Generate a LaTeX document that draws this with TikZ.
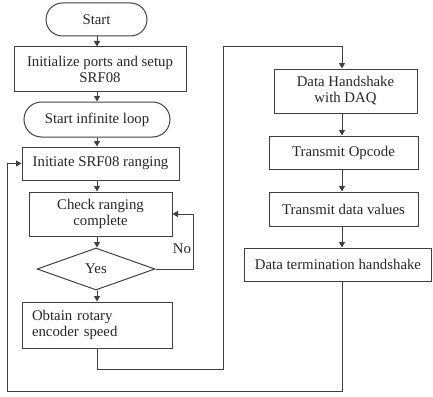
\documentclass[tikz,border=0pt]{standalone}
\usepackage{fontspec}
\setmainfont{Liberation Serif}
\usetikzlibrary{shapes.geometric,shapes.misc,arrows.meta}
\begin{document}
\begin{tikzpicture}[x=1pt,y=-1pt,
  every node/.style={font=\fontsize{14.8}{16}\selectfont, text=black!85},
  box/.style={draw=black!75, line width=1pt, rectangle, align=center, inner sep=2pt},
  termbox/.style={draw=black!75, line width=1pt, rounded rectangle, align=center, inner sep=2pt},
  decbox/.style={draw=black!75, line width=1pt, diamond, inner sep=0pt},
  conn/.style={draw=black!75, line width=1pt},
  arr/.style={conn, -{Triangle[length=5.5pt,width=6pt]}}]
\useasboundingbox (0,0) rectangle (433,396);
% column axes
\coordinate (colL) at (97,0);
\coordinate (colR) at (342,0);
% left column
\node[termbox, minimum width=105pt, minimum height=33pt] (start) at (96.5,19.5) {Start};
\node[box, minimum width=172pt, minimum height=44pt] (init) at (100,69) {Initialize ports and setup\\SRF08};
\node[termbox, minimum width=150pt, minimum height=35pt] (loop) at (97,119.5) {Start infinite loop};
\node[box, minimum width=157pt, minimum height=33pt] (initiate) at (100.5,163.5) {Initiate SRF08 ranging};
\node[box, minimum width=143pt, minimum height=44pt] (check) at (100.5,214) {Check ranging\\complete};
\node[decbox, minimum width=118pt, minimum height=42pt] (dec) at (96,269) {Yes};
\node[box, minimum height=46pt, text width=130pt, inner xsep=10pt, align=left] (obtain) at (97,325) {Obtain rotary\\encoder speed};
% right column
\node[box, minimum width=143pt, minimum height=44pt] (hand) at (345.5,91) {Data Handshake\\with DAQ};
\node[box, minimum width=149pt, minimum height=33pt] (opcode) at (343.5,152.5) {Transmit Opcode};
\node[box, minimum width=149pt, minimum height=34pt] (values) at (343.5,209) {Transmit data values};
\node[box, minimum width=187pt, minimum height=33pt] (termh) at (338,264.5) {Data termination handshake};
% label
\node (no) at (182,249) {No};
% corner coordinates
\coordinate (c1) at (97,369);
\coordinate (c2) at (223,369);
\coordinate (c3) at (223,47);
\coordinate (c4) at (342,47);
\coordinate (d1) at (342,391);
\coordinate (d2) at (7,391);
\coordinate (d3) at (7,163.5);
\coordinate (n1) at (193,269);
% left column arrows
\draw[arr] (start.south -| colL) -- (init.north -| colL);
\draw[arr] (init.south -| colL) -- (loop.north -| colL);
\draw[arr] (loop.south -| colL) -- (initiate.north -| colL);
\draw[arr] (initiate.south -| colL) -- (check.north -| colL);
\draw[arr] (check.south -| colL) -- (dec.north -| colL);
\draw[arr] (dec.south -| colL) -- (obtain.north -| colL);
% No loop
\draw[arr] (dec.east) -- (n1) |- (check.east);
% to right column
\draw[arr] (obtain.south -| colL) -- (c1) -- (c2) -- (c3) -- (c4) -- (hand.north -| colR);
\draw[arr] (hand.south -| colR) -- (opcode.north -| colR);
\draw[arr] (opcode.south -| colR) -- (values.north -| colR);
\draw[arr] (values.south -| colR) -- (termh.north -| colR);
% outer loop back
\draw[arr] (termh.south -| colR) -- (d1) -- (d2) -- (d3) -- (initiate.west);
\end{tikzpicture}
\end{document}
